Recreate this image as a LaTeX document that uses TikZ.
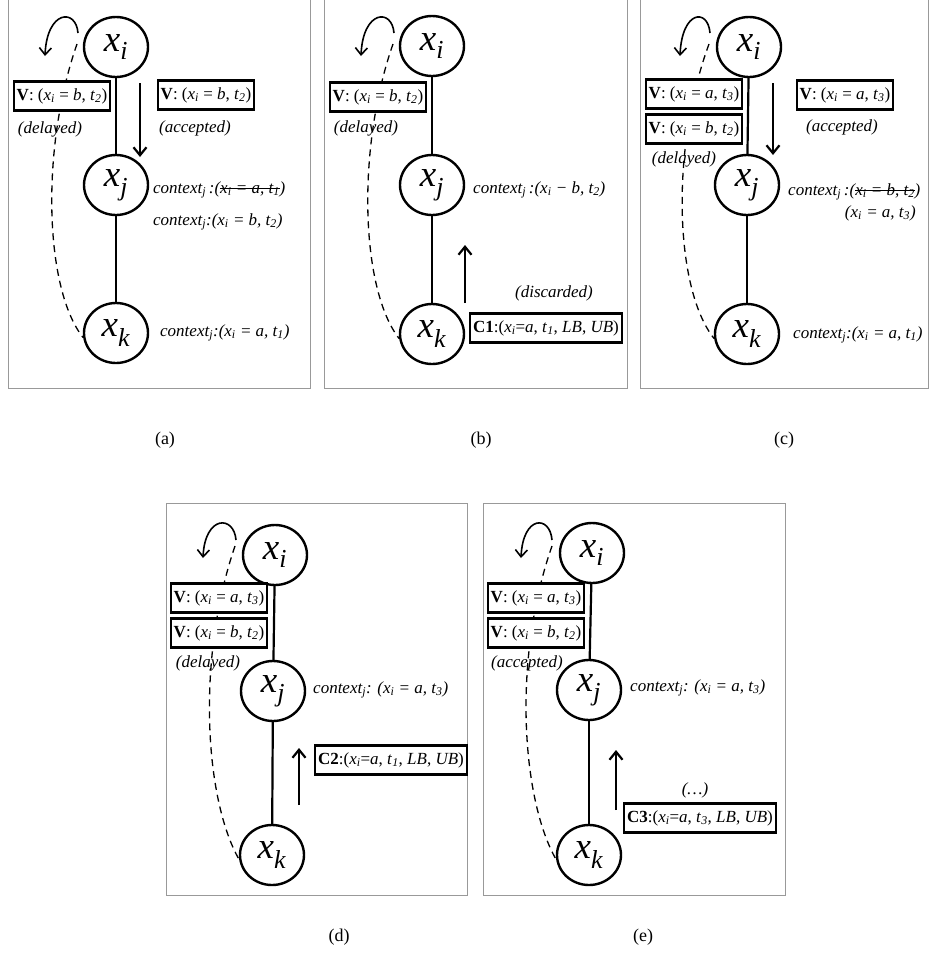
\documentclass[tikz,border=0pt]{standalone}
\usepackage{fontspec}
\setmainfont{Liberation Serif}
\usetikzlibrary{arrows.meta,shapes.geometric}
\newcommand\fs{\fontsize{17}{19}\selectfont}
\newcommand\bigfs{\fontsize{37}{39}\selectfont}
\newcommand\xs[1]{\textit{x}\textsubscript{\textit{#1}}}
\newcommand\ts[1]{\textit{t}\textsubscript{\textit{#1}}}
\newcommand\ctx{\textit{context}\textsubscript{\textit{j}}}
\newcommand\bigx[1]{\textit{x}\textsubscript{\textit{#1}}}
\newsavebox\strkbox
\newcommand\strk[1]{\sbox\strkbox{#1}\rlap{\rule[0.28em]{\wd\strkbox}{0.8pt}}\usebox\strkbox}
\tikzset{
  nd/.style={draw, line width=2.4pt, ellipse, minimum width=64pt, minimum height=60pt, inner sep=0pt, font=\bigfs},
  vbox/.style={draw, line width=2.4pt, fill=white, inner xsep=3pt, inner ysep=0pt, minimum height=29pt, font=\fs},
  lbl/.style={font=\fs\itshape, inner sep=0pt},
  captxt/.style={font=\fontsize{18}{20}\selectfont, inner sep=0pt},
  frm/.style={draw=black!40, line width=1pt},
  edg/.style={line width=2.2pt},
  dcurve/.style={line width=1.3pt, dash pattern=on 7pt off 5pt},
  arr/.style={line width=2.2pt, -{Straight Barb[length=8pt,width=13pt,line width=2.2pt]}},
  carr/.style={line width=1.6pt, -{Straight Barb[length=7pt,width=12pt,line width=1.6pt]}}
}
\begin{document}
\begin{tikzpicture}[x=1pt,y=-1pt]
\useasboundingbox (0,0) rectangle (936,962);
% frames
\draw[frm] (8,-5) rectangle (310,388);
\draw[frm] (324,-5) rectangle (627,388);
\draw[frm] (640,-5) rectangle (928,388);
\draw[frm] (166,503) rectangle (467,895);
\draw[frm] (483,503) rectangle (785,895);
% captions
\node[captxt] (capa) at (165,440) {(a)};
\node[captxt] (capb) at (481,440) {(b)};
\node[captxt] (capc) at (784,440) {(c)};
\node[captxt] (capd) at (339,937) {(d)};
\node[captxt] (cape) at (643,937) {(e)};

% ---------- panel (a)
\node[nd] (ai) at (116,47) {\bigx{i}};
\node[nd] (aj) at (116,185) {\bigx{j}};
\node[nd] (ak) at (116,333) {\bigx{k}};
\draw[edg] (ai) -- (aj);
\draw[edg] (aj) -- (ak);
\coordinate (a0) at (77,44);
\draw[dcurve] (a0) .. controls (40,150) and (45,290) .. (ak.188);
\coordinate (ac1) at (78,33);
\coordinate (ac2) at (45,56);
\draw[carr] (ac1) .. controls (76,8) and (47,10) .. (ac2);
\node[vbox] (av1) at (62,96) {\textbf{V}: (\xs{i} = \textit{b}, \ts{2})};
\node[lbl] (adel) at (50,129) {(delayed)};
\coordinate (ad1) at (140,83);
\coordinate (ad2) at (140,157);
\draw[arr] (ad1) -- (ad2);
\node[vbox] (av2) at (206,95) {\textbf{V}: (\xs{i} = \textit{b}, \ts{2})};
\node[lbl] (aacc) at (195,128) {(accepted)};
\node[lbl, anchor=west] (actx1) at (153,190) {\ctx\,:(\strk{\xs{i} = \textit{a}, \ts{1}})};
\node[lbl, anchor=west] (actx2) at (153,222) {\ctx:(\xs{i} = \textit{b}, \ts{2})};
\node[lbl, anchor=west] (actx3) at (160,333) {\ctx:(\xs{i} = \textit{a}, \ts{1})};

% ---------- panel (b)
\node[nd] (bi) at (432,46) {\bigx{i}};
\node[nd] (bj) at (432,185) {\bigx{j}};
\node[nd] (bk) at (432,334) {\bigx{k}};
\draw[edg] (bi) -- (bj);
\draw[edg] (bj) -- (bk);
\coordinate (b0) at (393,44);
\draw[dcurve] (b0) .. controls (356,150) and (361,290) .. (bk.188);
\coordinate (bc1) at (394,33);
\coordinate (bc2) at (361,56);
\draw[carr] (bc1) .. controls (392,8) and (363,10) .. (bc2);
\node[vbox] (bv1) at (378,97) {\textbf{V}: (\xs{i} = \textit{b}, \ts{2})};
\node[lbl] (bdel) at (366,128) {(delayed)};
\coordinate (bu1) at (465,303);
\coordinate (bu2) at (465,245);
\draw[arr] (bu1) -- (bu2);
\node[lbl, anchor=west] (bctx) at (473,190) {\ctx\,:(\xs{i} − \textit{b}, \ts{2})};
\node[lbl] (bdis) at (554,293) {(discarded)};
\node[vbox] (bc) at (546,328) {\textbf{C1}:(\xs{i}=\textit{a}, \ts{1}, \textit{LB}, \textit{UB})};

% ---------- panel (c)
\node[nd] (ci) at (749,47) {\bigx{i}};
\node[nd] (cj) at (747,185) {\bigx{j}};
\node[nd] (ck) at (747,334) {\bigx{k}};
\draw[edg] (ci) -- (cj);
\draw[edg] (cj) -- (ck);
\coordinate (c0) at (709,44);
\draw[dcurve] (c0) .. controls (670,150) and (675,290) .. (ck.188);
\coordinate (cc1) at (710,33);
\coordinate (cc2) at (680,56);
\draw[carr] (cc1) .. controls (708,8) and (682,10) .. (cc2);
\node[vbox] (cv1) at (694,94) {\textbf{V}: (\xs{i} = \textit{a}, \ts{3})};
\node[vbox] (cv2) at (694,129) {\textbf{V}: (\xs{i} = \textit{b}, \ts{2})};
\node[lbl] (cdel) at (684,159) {(delayed)};
\coordinate (cd1) at (773,83);
\coordinate (cd2) at (773,155);
\draw[arr] (cd1) -- (cd2);
\node[vbox] (cv3) at (845,95) {\textbf{V}: (\xs{i} = \textit{a}, \ts{3})};
\node[lbl] (cacc) at (842,127) {(accepted)};
\node[lbl, anchor=west] (cctx1) at (788,192) {\ctx\,:(\strk{\xs{i} = \textit{b}, \ts{2}})};
\node[lbl, anchor=east] (cctx2) at (916,213) {(\xs{i} = \textit{a}, \ts{3})};
\node[lbl, anchor=west] (cctx3) at (793,335) {\ctx:(\xs{i} = \textit{a}, \ts{1})};

% ---------- panel (d)
\node[nd] (di) at (275,555) {\bigx{i}};
\node[nd] (dj) at (273,691) {\bigx{j}};
\node[nd] (dk) at (272,855) {\bigx{k}};
\draw[edg] (di) -- (dj);
\draw[edg] (dj) -- (dk);
\coordinate (d0) at (235,546);
\draw[dcurve] (d0) .. controls (196,660) and (205,800) .. (dk.188);
\coordinate (dc1) at (236,540);
\coordinate (dc2) at (203,558);
\draw[carr] (dc1) .. controls (234,515) and (205,515) .. (dc2);
\node[vbox] (dv1) at (219,598) {\textbf{V}: (\xs{i} = \textit{a}, \ts{3})};
\node[vbox] (dv2) at (219,633) {\textbf{V}: (\xs{i} = \textit{b}, \ts{2})};
\node[lbl] (ddel) at (208,663) {(delayed)};
\coordinate (du1) at (299,805);
\coordinate (du2) at (299,748);
\draw[arr] (du1) -- (du2);
\node[lbl, anchor=west] (dctx) at (313,690) {\ctx: (\xs{i} = \textit{a}, \ts{3})};
\node[vbox] (dc) at (391,760) {\textbf{C2}:(\xs{i}=\textit{a}, \ts{1}, \textit{LB}, \textit{UB})};

% ---------- panel (e)
\node[nd] (ei) at (592,553) {\bigx{i}};
\node[nd] (ej) at (589,690) {\bigx{j}};
\node[nd] (ek) at (589,855) {\bigx{k}};
\draw[edg] (ei) -- (ej);
\draw[edg] (ej) -- (ek);
\coordinate (e0) at (552,546);
\draw[dcurve] (e0) .. controls (512,660) and (522,800) .. (ek.188);
\coordinate (ec1) at (552,540);
\coordinate (ec2) at (521,558);
\draw[carr] (ec1) .. controls (550,515) and (523,515) .. (ec2);
\node[vbox] (ev1) at (536,598) {\textbf{V}: (\xs{i} = \textit{a}, \ts{3})};
\node[vbox] (ev2) at (536,633) {\textbf{V}: (\xs{i} = \textit{b}, \ts{2})};
\node[lbl] (eacc) at (527,663) {(accepted)};
\coordinate (eu1) at (616,810);
\coordinate (eu2) at (616,750);
\draw[arr] (eu1) -- (eu2);
\node[lbl, anchor=west] (ectx) at (630,688) {\ctx: (\xs{i} = \textit{a}, \ts{3})};
\node[lbl] (edots) at (695,790) {(…)};
\node[vbox] (ec) at (700,818) {\textbf{C3}:(\xs{i}=\textit{a}, \ts{3}, \textit{LB}, \textit{UB})};
\end{tikzpicture}
\end{document}
